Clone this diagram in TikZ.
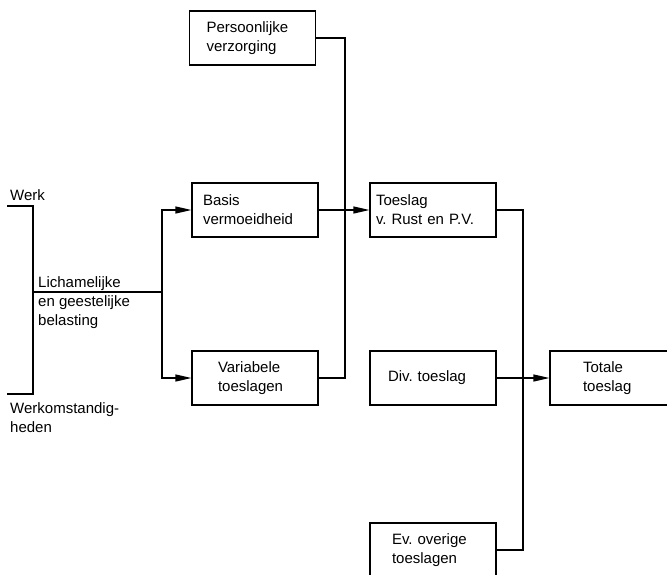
\documentclass[tikz,border=0pt]{standalone}
\usepackage{fontspec}
\setmainfont{Liberation Sans}
\frenchspacing
\usetikzlibrary{arrows.meta}

\begin{document}
\begin{tikzpicture}[
		x=1pt, y=-1pt,
		>={Triangle[length=16pt, width=7pt]},
		font=\fontsize{15}{19}\selectfont,
		box/.style={
			draw=black,
			line width=1.2pt,
			fill=white,
			align=left,
			minimum height=54pt,
			inner ysep=0pt,
			inner xsep=#1,
			text width={126pt-2*#1}
		},
		txt/.style={
			anchor=base west,
			inner sep=0pt,
			align=left
		},
		line/.style={
			line width=1.2pt,
			draw=black
		},
		arrow/.style={
			->,
			line width=1.2pt,
			draw=black
		}
	]
	\useasboundingbox (0,0) rectangle (667,574);
	
	% Boxes
	\node[box=17pt] (pv) at (252.5,38) {Persoonlijke\\verzorging};
	\node[box=11pt] (basis) at (255,210) {Basis\\vermoeidheid};
	\node[box=26pt] (var) at (255,378) {Variabele\\toeslagen};
	\node[box=6pt] (rust) at (433,210) {Toeslag\\v. Rust en P.V.};
	\node[box=18pt] (div) at (433,378) {Div. toeslag};
	\node[box=22pt] (overig) at (433,550) {Ev. overige\\toeslagen};
	\node[box=33pt] (totaal) at (613,378) {Totale\\toeslag};
	
	% Labels on the left (base = last line)
	\node[txt] (werk) at (10,200) {Werk};
	\node[txt] (belasting) at (38,325) {Lichamelijke\\en geestelijke\\belasting};
	\node[txt] (omst) at (10,432) {Werkomstandig-\\heden};
	
	% Junctions
	\coordinate (werkend) at (7,206);
	\coordinate (omstend) at (7,394);
	\coordinate (samen) at (33,292);
	\coordinate (split) at (162,292);
	\coordinate (links) at (345,210);
	\coordinate (rechts) at (523,378);
	
	% Bracket and split
	\draw[line] (werkend) -- ++(26,0) |- (omstend);
	\draw[line] (samen) -- (split);
	\draw[arrow] (split) |- (basis.west);
	\draw[arrow] (split) |- (var.west);
	
	% Into Toeslag v. Rust en P.V.
	\draw[line] (pv.east) -| (links);
	\draw[line] (var.east) -| (links);
	\draw[arrow] (basis.east) -- (rust.west);
	
	% Into Totale toeslag
	\draw[line] (rust.east) -| (rechts);
	\draw[line] (overig.east) -| (rechts);
	\draw[arrow] (div.east) -- (totaal.west);
	
\end{tikzpicture}
\end{document}
